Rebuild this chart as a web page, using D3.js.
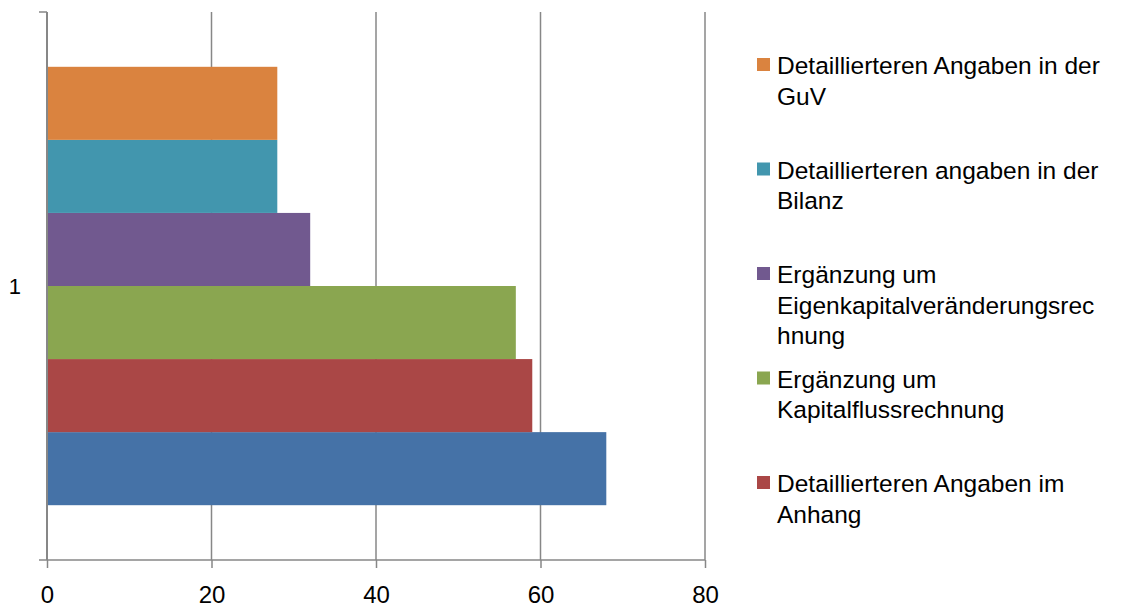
<!DOCTYPE html>
<html>
<head>
<meta charset="utf-8">
<script src="https://cdn.jsdelivr.net/npm/d3@7"></script>
<style>
  html, body { margin: 0; padding: 0; background: #fff; }
  svg { display: block; }
</style>
</head>
<body>
<svg id="chart" width="1135" height="608"></svg>
<script>
// Category (single group) and series, listed bottom-to-top as drawn
const categories = ["1"];
const seriesNames = [
  "Sonstige Angaben",
  "Detaillierteren Angaben im Anhang",
  "Ergänzung um Kapitalflussrechnung",
  "Ergänzung um Eigenkapitalveränderungsrechnung",
  "Detaillierteren angaben in der Bilanz",
  "Detaillierteren Angaben in der GuV"
];
const seriesValues = [68, 59, 57, 32, 28, 28];
const seriesColors = ["#4572A7", "#AA4746", "#8AA650", "#71598F", "#4296AE", "#DA833F"];
// Legend text, already broken into lines as shown (same order as series)
const legendLines = [
  ["Sonstige Angaben"],
  ["Detaillierteren Angaben im", "Anhang"],
  ["Ergänzung um", "Kapitalflussrechnung"],
  ["Ergänzung um", "Eigenkapitalveränderungsrec", "hnung"],
  ["Detaillierteren angaben in der", "Bilanz"],
  ["Detaillierteren Angaben in der", "GuV"]
];
const xTicks = [0, 20, 40, 60, 80];

const svg = d3.select("#chart");
const plot = { left: 47, right: 705, top: 12, bottom: 560 };
const axisColor = "#878787";
const fontFamily = "'Liberation Sans', Arial, sans-serif";

const x = d3.scaleLinear().domain([0, 80]).range([plot.left, plot.right]);

// Outer band: category; gap width of 150% between groups
const y0 = d3.scaleBand().domain(categories)
  .range([plot.bottom, plot.top])
  .paddingInner(0).paddingOuter(0.125);

// Inner band: series within the category, first series at the bottom
const y1 = d3.scaleBand().domain(d3.range(seriesNames.length))
  .range([y0.bandwidth(), 0]).padding(0);

// Vertical gridlines
svg.append("g")
  .selectAll("line")
  .data(xTicks.filter(t => t > 0))
  .join("line")
  .attr("x1", d => x(d)).attr("x2", d => x(d))
  .attr("y1", plot.top).attr("y2", plot.bottom)
  .attr("stroke", axisColor).attr("stroke-width", 1.5);

// Bars
categories.forEach(cat => {
  svg.append("g")
    .attr("transform", `translate(0,${y0(cat)})`)
    .selectAll("rect")
    .data(seriesValues.map((v, i) => ({ v, i })))
    .join("rect")
    .attr("x", x(0))
    .attr("y", d => y1(d.i))
    .attr("width", d => x(d.v) - x(0))
    .attr("height", y1.bandwidth())
    .attr("fill", d => seriesColors[d.i]);
});

// Bottom value axis
const xAxis = d3.axisBottom(x).tickValues(xTicks).tickSizeInner(8).tickSizeOuter(0).tickPadding(18);
const gx = svg.append("g")
  .attr("transform", `translate(0,${plot.bottom})`)
  .call(xAxis);
gx.select(".domain").remove();
gx.append("line")
  .attr("x1", plot.left - 8).attr("x2", plot.right)
  .attr("y1", 0).attr("y2", 0)
  .attr("stroke", axisColor).attr("stroke-width", 1.5);
gx.selectAll(".tick line").attr("stroke", axisColor).attr("stroke-width", 1.5);
gx.selectAll(".tick text")
  .attr("fill", "#000")
  .style("font-family", fontFamily)
  .style("font-size", "24px");

// Left category axis
const yAxisScale = d3.scaleBand().domain(categories).range([plot.bottom, plot.top]);
const yAxis = d3.axisLeft(yAxisScale).tickSize(0).tickPadding(26);
const gy = svg.append("g")
  .attr("transform", `translate(${plot.left},0)`)
  .call(yAxis);
gy.select(".domain").remove();
gy.append("line")
  .attr("x1", 0).attr("x2", 0)
  .attr("y1", plot.top).attr("y2", plot.bottom)
  .attr("stroke", axisColor).attr("stroke-width", 2);
gy.append("line")
  .attr("x1", -8).attr("x2", 0)
  .attr("y1", plot.top).attr("y2", plot.top)
  .attr("stroke", axisColor).attr("stroke-width", 1.5);
gy.selectAll(".tick text")
  .attr("fill", "#000")
  .attr("dy", "0.36em")
  .style("font-family", fontFamily)
  .style("font-size", "22px");

// Legend: top-most series first; entries that would overflow are left out
const legend = { x: 757, top: 57, step: 104.5, swatch: 13, lineH: 30.5, maxEntries: 5 };
const legendOrder = d3.range(seriesNames.length).reverse();
const gl = svg.append("g");
legendOrder.forEach((si, k) => {
  if (k >= legend.maxEntries) return;
  const top = legend.top + k * legend.step;
  const lines = legendLines[si];
  const g = gl.append("g").attr("transform", `translate(${legend.x},${top})`);
  g.append("rect")
    .attr("x", 0).attr("y", 1)
    .attr("width", legend.swatch).attr("height", legend.swatch)
    .attr("fill", seriesColors[si]);
  const t = g.append("text")
    .attr("x", 20).attr("y", 17)
    .attr("fill", "#000")
    .style("font-family", fontFamily)
    .style("font-size", "24.5px");
  lines.forEach((ln, j) => {
    t.append("tspan").attr("x", 20).attr("dy", j === 0 ? 0 : legend.lineH).text(ln);
  });
});
</script>
</body>
</html>
